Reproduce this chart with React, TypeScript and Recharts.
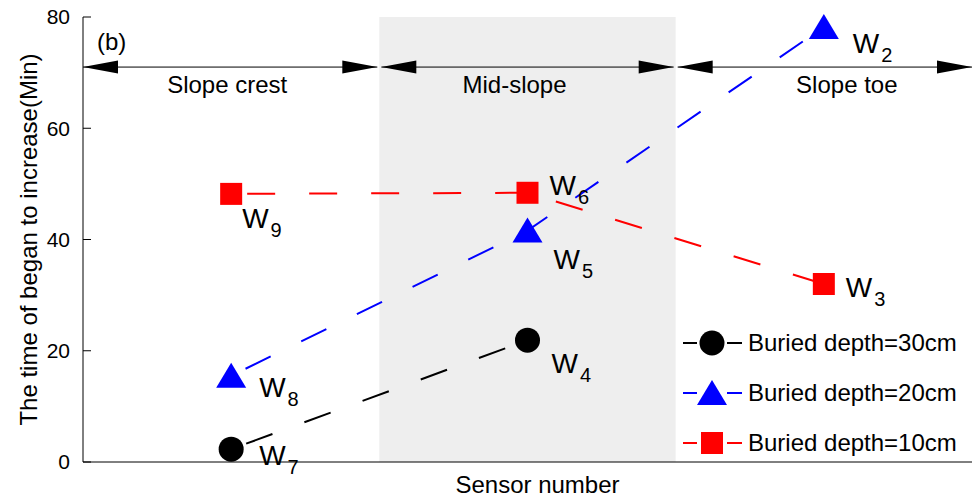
import React from "react";
import { LineChart, Line, XAxis, YAxis, ReferenceArea, ReferenceLine, LabelList, Legend } from "recharts";

const FONT = "'Liberation Sans', Arial, Helvetica, sans-serif";

// sensor positions along the slope (centre of each zone)
const sensorPos = [0.5, 1.5, 2.5];
const depth30 = [2.3, 21.9, null];
const depth20 = [15.5, 41.6, 78.2];
const depth10 = [48.2, 48.4, 32];
const sensors30 = ["7", "4", null];
const sensors20 = ["8", "5", "2"];
const sensors10 = ["9", "6", "3"];

const regions = ["Slope crest", "Mid-slope", "Slope toe"];
const regionBounds = [0, 1, 2, 3];
const xTicks = [0.5, 1, 1.5, 2, 2.5];
const yTicks = [0, 20, 40, 60, 80];
const arrowLevel = 71;

const data = sensorPos.map((x, i) => ({
  x,
  d30: depth30[i],
  d20: depth20[i],
  d10: depth10[i],
  s30: sensors30[i],
  s20: sensors20[i],
  s10: sensors10[i],
}));

const seriesList = [
  { key: "d30", label: "s30", name: "Buried depth=30cm", color: "#000000", shape: "circle" },
  { key: "d20", label: "s20", name: "Buried depth=20cm", color: "#0000ff", shape: "triangle" },
  { key: "d10", label: "s10", name: "Buried depth=10cm", color: "#ff0000", shape: "square" },
];

// where each W label sits relative to its marker
const labelOffset: Record<string, [number, number]> = {
  "7": [28, 16],
  "4": [24, 33],
  "8": [28, 21],
  "5": [26, 38],
  "2": [29, 26],
  "9": [11, 34],
  "6": [22, 2],
  "3": [22, 13],
};

// label nudges for the zone names
const regionDx = [-3, -13, 22];

function Marker({ shape, cx, cy, color }: any) {
  if (cx == null || cy == null || isNaN(cx) || isNaN(cy)) return null;
  if (shape === "circle") return <circle cx={cx} cy={cy} r={12.5} fill={color} />;
  if (shape === "triangle")
    return <polygon points={`${cx},${cy - 13} ${cx - 15},${cy + 12} ${cx + 15},${cy + 12}`} fill={color} />;
  return <rect x={cx - 11} y={cy - 11} width={22} height={22} fill={color} />;
}

function SensorLabel(props: any) {
  const { x, y, value } = props;
  if (value == null || x == null || y == null) return null;
  const [dx, dy] = labelOffset[value] || [20, 20];
  return (
    <text x={x + dx} y={y + dy} fontSize={28} fontFamily={FONT} fill="#000">
      <tspan>W</tspan>
      <tspan fontSize={20} dx={2} dy={9}>
        {value}
      </tspan>
    </text>
  );
}

function arrowShape(index: number) {
  return (props: any) => {
    const { x1, y1, x2 } = props;
    const left = Math.min(x1, x2) + (index === 0 ? 0 : 2);
    const right = Math.max(x1, x2) - (index === regions.length - 1 ? 0 : 2);
    const len = 35;
    const h = 6.5;
    const y = y1;
    return (
      <g>
        <line x1={left} y1={y} x2={right} y2={y} stroke="#000" strokeWidth={1} />
        <polygon points={`${left},${y} ${left + len},${y - h} ${left + len},${y + h}`} fill="#000" />
        <polygon points={`${right},${y} ${right - len},${y - h} ${right - len},${y + h}`} fill="#000" />
        <text
          x={(left + right) / 2 + regionDx[index]}
          y={y + 26}
          textAnchor="middle"
          fontSize={24}
          fontFamily={FONT}
          fill="#000"
        >
          {regions[index]}
        </text>
      </g>
    );
  };
}

function LegendContent({ payload }: any) {
  const order = (v: string) => seriesList.findIndex((d) => d.name === v);
  const items = [...(payload || [])].sort((a: any, b: any) => order(a.value) - order(b.value));
  return (
    <div style={{ fontFamily: FONT }}>
      {items.map((item: any) => {
        const s = seriesList.find((d) => d.name === item.value) || seriesList[0];
        return (
          <div key={item.value} style={{ display: "flex", alignItems: "center", height: 50 }}>
            <svg width={60} height={30} style={{ display: "block" }}>
              <line x1={0} y1={15} x2={14} y2={15} stroke={s.color} strokeWidth={2} />
              <line x1={44} y1={15} x2={59} y2={15} stroke={s.color} strokeWidth={2} />
              <Marker shape={s.shape} cx={29} cy={15} color={s.color} />
            </svg>
            <span style={{ marginLeft: 5, fontSize: 24, color: "#000", whiteSpace: "nowrap" }}>{item.value}</span>
          </div>
        );
      })}
    </div>
  );
}

export default function App() {
  return (
    <div style={{ position: "absolute", left: 0, top: 0, width: 978, height: 500, background: "#fff", fontFamily: FONT }}>
      <LineChart width={978} height={500} data={data} margin={{ top: 17, right: 6, bottom: 0, left: 0 }}>
        <ReferenceArea x1={regionBounds[1]} x2={regionBounds[2]} y1={0} y2={80} fill="#eeeeee" fillOpacity={1} stroke="none" />
        <XAxis
          dataKey="x"
          type="number"
          domain={[0, 3]}
          ticks={xTicks}
          tick={false}
          tickSize={-10}
          height={38}
          axisLine={{ stroke: "#000" }}
          tickLine={{ stroke: "#000" }}
          label={(p: any) => {
            const vb = p.viewBox;
            return (
              <text x={vb.x + vb.width / 2 + 10} y={vb.y + 31} textAnchor="middle" fontSize={24} fontFamily={FONT} fill="#000">
                Sensor number
              </text>
            );
          }}
        />
        <XAxis
          xAxisId="top"
          orientation="top"
          dataKey="x"
          type="number"
          domain={[0, 3]}
          ticks={xTicks}
          tick={false}
          tickSize={-10}
          height={0}
          axisLine={{ stroke: "#000" }}
          tickLine={{ stroke: "#000" }}
        />
        <YAxis
          type="number"
          domain={[0, 80]}
          ticks={yTicks}
          width={83}
          tickSize={-8}
          tickMargin={21}
          axisLine={{ stroke: "#000" }}
          tickLine={{ stroke: "#000" }}
          tick={{ fontSize: 21, fill: "#000", fontFamily: FONT }}
          label={(p: any) => {
            const vb = p.viewBox;
            const cy = vb.y + vb.height / 2;
            return (
              <text transform={`translate(37,${cy}) rotate(-90)`} textAnchor="middle" fontSize={24} fontFamily={FONT} fill="#000">
                The time of began to increase(Min)
              </text>
            );
          }}
        />
        <YAxis
          yAxisId="right"
          orientation="right"
          type="number"
          domain={[0, 80]}
          ticks={yTicks}
          width={0}
          tick={false}
          tickSize={-9}
          axisLine={{ stroke: "#000" }}
          tickLine={{ stroke: "#000" }}
        />
        {regions.map((r, i) => (
          <ReferenceLine
            key={r}
            segment={[
              { x: regionBounds[i], y: arrowLevel },
              { x: regionBounds[i + 1], y: arrowLevel },
            ]}
            shape={arrowShape(i)}
            ifOverflow="visible"
          />
        ))}
        {seriesList.map((s) => (
          <Line
            key={s.key}
            dataKey={s.key}
            name={s.name}
            stroke={s.color}
            strokeWidth={2}
            strokeDasharray="28 34"
            strokeDashoffset={46}
            activeDot={false}
            isAnimationActive={false}
            dot={(p: any) => <Marker key={`${s.key}-${p.index}`} shape={s.shape} cx={p.cx} cy={p.cy} color={s.color} />}
          >
            <LabelList dataKey={s.label} content={SensorLabel} />
          </Line>
        ))}
        <Legend
          layout="vertical"
          align="center"
          verticalAlign="middle"
          wrapperStyle={{ left: 683, top: 318, width: 289 }}
          content={LegendContent}
        />
      </LineChart>
      <div style={{ position: "absolute", left: 97, top: 28, fontSize: 24, color: "#000", fontFamily: FONT }}>(b)</div>
    </div>
  );
}
